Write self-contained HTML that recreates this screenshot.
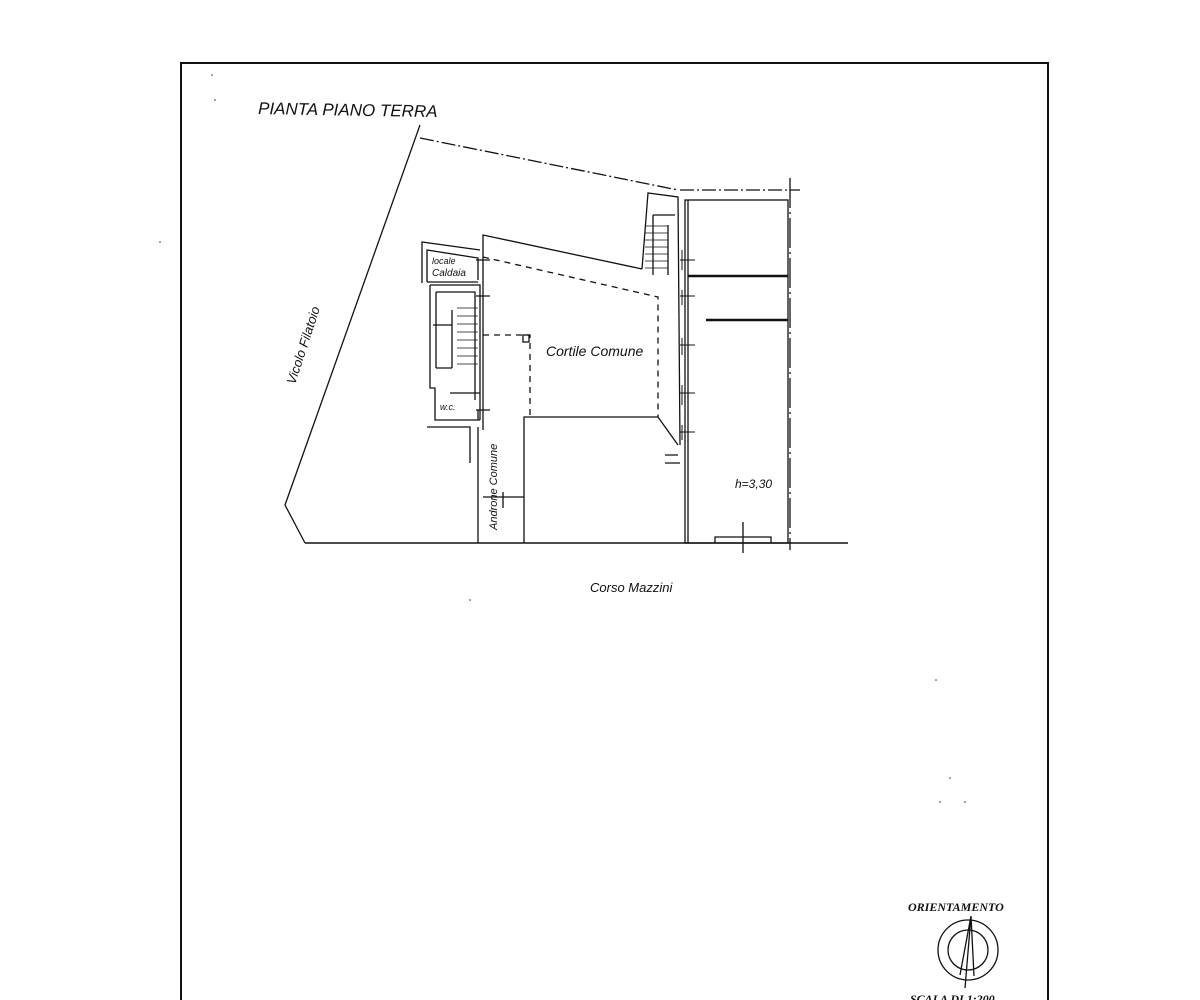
<!DOCTYPE html>
<html><head><meta charset="utf-8"><style>
html,body{margin:0;padding:0;background:#fff;width:1200px;height:1000px;overflow:hidden}
svg{display:block}
text{font-family:"Liberation Sans",sans-serif;fill:#111}
</style></head><body>
<svg width="1200" height="1000" viewBox="0 0 1200 1000" xmlns="http://www.w3.org/2000/svg">
<g fill="none" stroke="#111" stroke-width="1.3">
<!-- frame -->
<path d="M181,1000 V63 H1048 V1000" stroke-width="2"/>
<!-- street line -->
<line x1="305" y1="543" x2="848" y2="543" stroke-width="1.6"/>
<!-- vicolo diagonal -->
<polyline points="420,125 285,505 305,543"/>
<!-- dashed top boundary -->
<path d="M420,138 L678,190 M680,190 H800" stroke-dasharray="14,3,2,3"/>
<line x1="790" y1="178" x2="790" y2="550" stroke-dasharray="30,4,2,4"/>
<!-- right building -->
<rect x="685" y="200" width="103" height="343"/>
<line x1="688" y1="200" x2="688" y2="543"/>
<line x1="688" y1="276" x2="788" y2="276" stroke-width="2.5"/>
<line x1="706" y1="320" x2="788" y2="320" stroke-width="2.5"/>
<line x1="743" y1="522" x2="743" y2="553"/>
<path d="M715,543 V537 H771 V543"/>
<!-- stair block top -->
<polyline points="642,269 648,193 678,197 680,445"/>
<path d="M653,215 H675 M653,215 V275 M668,225 V275" />
<g stroke-width="0.8">
<path d="M645,226H668M645,233H668M645,240H668M645,247H668M645,254H668M645,261H668M645,268H668"/>
</g>
<!-- courtyard -->
<polyline points="483,430 483,235 642,269"/>
<path d="M483,257 L658,297 V417" stroke-dasharray="6,5"/>
<path d="M483,335 H530 V417" stroke-dasharray="6,5"/>
<rect x="523" y="335" width="6" height="7"/>
<path d="M678,445 L658,417 H524 V543"/>
<path d="M665,455 H678 M665,463 H680"/>
<!-- windows on right wall -->
<g stroke-width="1">
<path d="M680,260H695M680,296H695M680,345H695M680,393H695M680,432H695M682,250V270M682,290V305M682,338V355M682,385V405M682,425V440"/>
</g>
<!-- left block: locale caldaia -->
<polyline points="422,283 422,242 480,250"/>
<path d="M427,282 V250 L478,258 V280 M427,282 H478"/>
<!-- stairs/wc block -->
<path d="M430,285 H480 V420 M430,285 V388 H435 V420 H480"/>
<path d="M436,292 H475 V400 M436,292 V368"/>
<path d="M433,325 H452 M452,310 V368 M436,368 H452"/>
<g stroke-width="0.8">
<path d="M457,308H478M457,316H478M457,324H478M457,332H478M457,340H478M457,348H478M457,356H478M457,364H478"/>
</g>
<path d="M450,393 H480"/>
<path d="M427,427 H470 V463 M478,427 V543"/>
<path d="M476,260H490M476,296H490M476,410H490M478,410V420"/>
<path d="M483,497 H524 M503,492 V508"/>
</g>
<!-- texts -->
<text x="258" y="114" font-size="17" font-style="italic" transform="rotate(1,258,114)">PIANTA PIANO TERRA</text>
<text x="432" y="264" font-size="9" font-style="italic">locale</text>
<text x="432" y="276" font-size="10" font-style="italic">Caldaia</text>
<text x="440" y="410" font-size="9" font-style="italic">w.c.</text>
<text x="546" y="356" font-size="14" font-style="italic">Cortile Comune</text>
<text x="735" y="488" font-size="12" font-style="italic">h=3,30</text>
<text x="0" y="0" font-size="11" font-style="italic" transform="translate(497,530) rotate(-90)">Androne Comune</text>
<text x="0" y="0" font-size="13" font-style="italic" transform="translate(295,385) rotate(-72)">Vicolo Filatoio</text>
<text x="590" y="592" font-size="13" font-style="italic">Corso Mazzini</text>
<text x="908" y="911" font-size="12" font-weight="bold" font-style="italic" style="font-family:'Liberation Serif',serif">ORIENTAMENTO</text>
<g fill="none" stroke="#111" stroke-width="1.3">
<circle cx="968" cy="950" r="30"/>
<circle cx="968" cy="950" r="20"/>
<path d="M971,916 L965,988 M971,916 L960,975 M971,916 L974,976"/>
</g>
<text x="910" y="1003" font-size="12" font-weight="bold" font-style="italic" style="font-family:'Liberation Serif',serif">SCALA DI 1:200</text>
<g fill="#333"><circle cx="212" cy="75" r="0.8"/><circle cx="215" cy="100" r="0.8"/><circle cx="160" cy="242" r="0.8"/><circle cx="470" cy="600" r="0.8"/><circle cx="936" cy="680" r="0.8"/><circle cx="950" cy="778" r="0.8"/><circle cx="940" cy="802" r="0.8"/><circle cx="965" cy="802" r="0.8"/></g>
</svg>
</body></html>
